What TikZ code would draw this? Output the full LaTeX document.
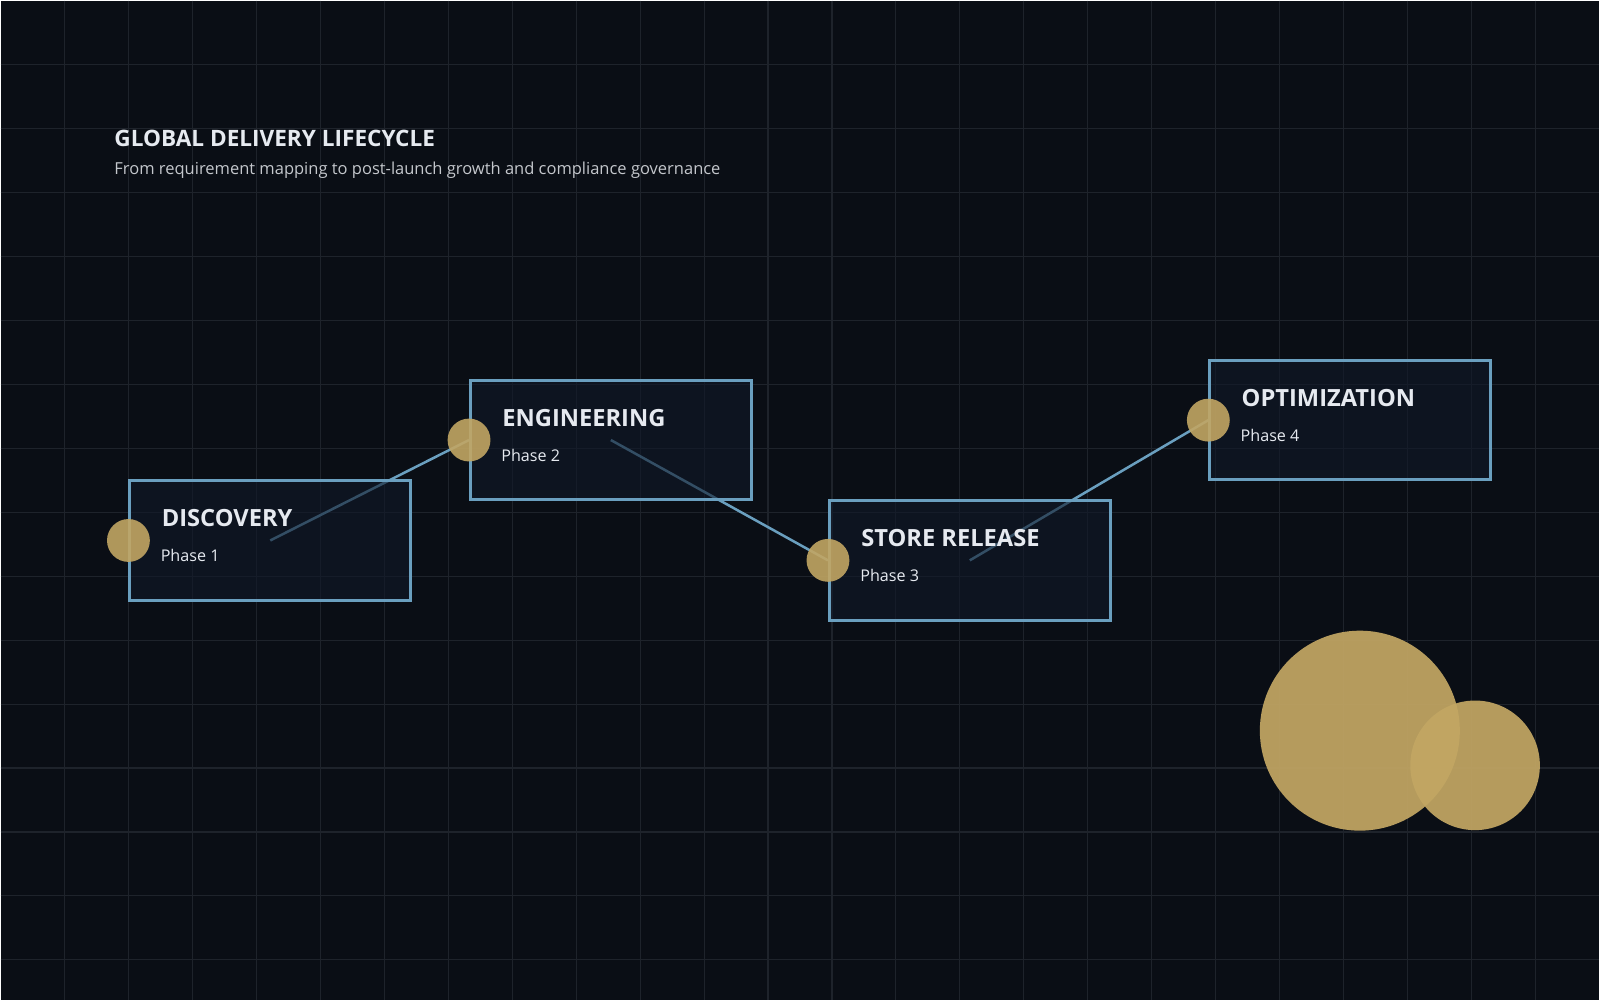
\documentclass[tikz,border=0pt]{standalone}
\usepackage{fontspec}
\setmainfont{Open Sans}
\usetikzlibrary{backgrounds}
\usetikzlibrary{calc}
\usetikzlibrary{positioning}
\definecolor{bgdark}{HTML}{0A0E15}
\definecolor{gridline}{HTML}{1E232B}
\definecolor{boxfill}{HTML}{0F1828}
\definecolor{boxedge}{HTML}{6A9FBF}
\definecolor{gold}{HTML}{C2A663}
\definecolor{txt}{HTML}{E6EAF0}

\begin{document}
\begin{tikzpicture}
[
	x = 0.01cm, y = -0.01cm,
	phase/.style = {rectangle, draw = boxedge, line width = 0.85pt, fill = boxfill, fill opacity = 0.6, minimum width = 2.75cm, minimum height = 1.17cm, inner sep = 0cm},
	dot/.style = {circle, fill = gold, fill opacity = 0.9, minimum size = 0.42cm, inner sep = 0cm},
	link/.style = {draw = boxedge, line width = 0.7pt},
	heading/.style = {anchor = west, text = txt, font = \fontsize{6.6}{7}\selectfont\bfseries, inner sep = 0cm},
	sub/.style = {anchor = west, text = txt, font = \fontsize{4.5}{5}\selectfont, inner sep = 0cm},
]

	% phases
	\node (disc) [phase] at (264.5,529.5) {};
	\node (eng)  [phase] at (598.5,431) {};
	\node (rel)  [phase] at (950.5,549) {};
	\node (opt)  [phase] at (1323.5,411.5) {};
	%
	\node (discT) [heading] at ($(disc.north west)+(32,38)$) {DISCOVERY};
	\node (discP) [sub] at ($(disc.north west)+(31,75)$) {Phase 1};
	\node (engT) [heading] at ($(eng.north west)+(32,38)$) {ENGINEERING};
	\node (engP) [sub] at ($(eng.north west)+(31,75)$) {Phase 2};
	\node (relT) [heading] at ($(rel.north west)+(32,38)$) {STORE RELEASE};
	\node (relP) [sub] at ($(rel.north west)+(31,75)$) {Phase 3};
	\node (optT) [heading] at ($(opt.north west)+(32,38)$) {OPTIMIZATION};
	\node (optP) [sub] at ($(opt.north west)+(31,75)$) {Phase 4};

	% markers
	\node (dot1) [dot] at (disc.west) {};
	\node (dot2) [dot] at (eng.west) {};
	\node (dot3) [dot] at (rel.west) {};
	\node (dot4) [dot] at (opt.west) {};

	% background, grid and links
	\begin{pgfonlayer}{background}
	\fill [bgdark] (0,0) rectangle (1568,980);
	\foreach \g in {1,...,24}
		\draw [gridline, line width = 0.3pt] (\g*62.72,0) -- (\g*62.72,980);
	\foreach \g in {1,...,15}
		\draw [gridline, line width = 0.3pt] (0,\g*62.72) -- (1568,\g*62.72);
	\draw [link] (disc.center) -- (dot2.center);
	\draw [link] (eng.center) -- (dot3.center);
	\draw [link] (rel.center) -- (dot4.center);
	\end{pgfonlayer}

	% title
	\node (title) [anchor = west, text = txt, font = \fontsize{6.3}{7}\selectfont\bfseries, inner sep = 0cm] at (111,135) {GLOBAL DELIVERY LIFECYCLE};
	\node (subtitle) [anchor = west, text = txt!85!black, font = \fontsize{4.6}{5}\selectfont, inner sep = 0cm] at (111,166) {From requirement mapping to post-launch growth and compliance governance};

	% decoration
	\node (bigA) [circle, fill = gold, fill opacity = 0.93, minimum size = 1.96cm, inner sep = 0cm] at (1333,716) {};
	\node (bigB) [circle, fill = gold, fill opacity = 0.93, minimum size = 1.27cm, inner sep = 0cm] at (1446,750) {};

\end{tikzpicture}
\end{document}
